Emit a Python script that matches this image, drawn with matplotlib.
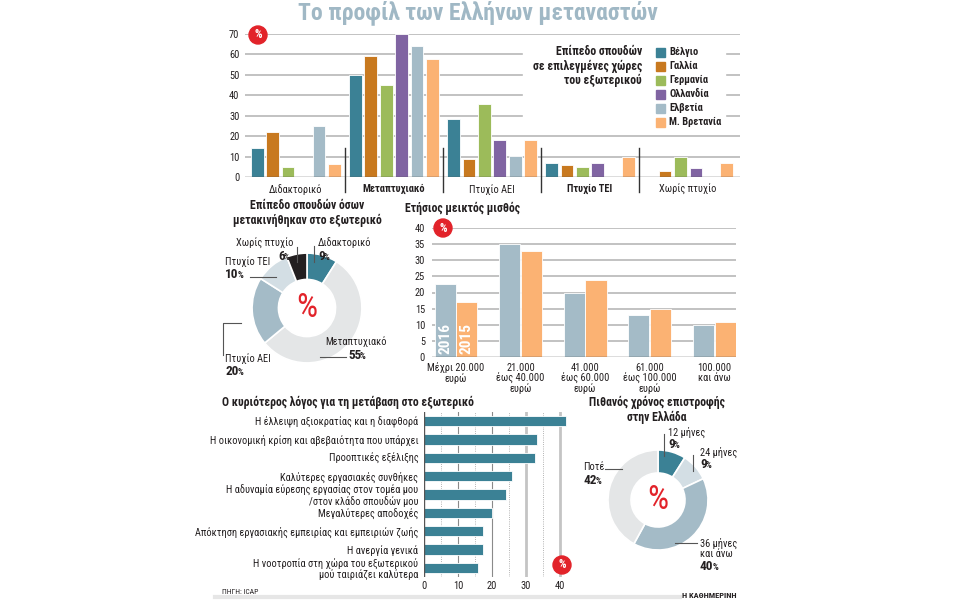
import numpy as np
import matplotlib.pyplot as plt
from matplotlib import font_manager
from matplotlib.font_manager import FontProperties
from matplotlib.patches import Circle, Rectangle


def pick(names):
    for n in names:
        try:
            font_manager.findfont(FontProperties(family=n), fallback_to_default=False)
            return n
        except ValueError:
            pass
    return 'DejaVu Sans'


FONT = pick(['Liberation Sans Narrow', 'Roboto Condensed', 'Roboto'])
plt.rcParams['font.family'] = [FONT, 'DejaVu Sans']

# --- data ---
levels = ['Διδακτορικό', 'Μεταπτυχιακό', 'Πτυχίο ΑΕΙ', 'Πτυχίο ΤΕΙ', 'Χωρίς πτυχίο']
countries = ['Βέλγιο', 'Γαλλία', 'Γερμανία', 'Ολλανδία', 'Ελβετία', 'Μ. Βρετανία']
belgium = [14, 50, 28.5, 7, 0]
france = [22, 59, 9, 6, 3]
germany = [5, 45, 35.5, 5, 10]
netherlands = [0, 70, 18, 7, 4.5]
switzerland = [25, 64, 10.5, 0, 0]
britain = [6.5, 58, 18, 10, 7]

edu_labels = ['Διδακτορικό', 'Μεταπτυχιακό', 'Πτυχίο ΑΕΙ', 'Πτυχίο ΤΕΙ', 'Χωρίς πτυχίο']
edu_share = [9, 55, 20, 10, 6]

salary_bins = ['Μέχρι 20.000\nευρώ', '21.000\nέως 40.000\nευρώ', '41.000\nέως 60.000\nευρώ',
               '61.000\nέως 100.000\nευρώ', '100.000\nκαι άνω']
salary_2016 = [22.5, 35, 20, 13, 10]
salary_2015 = [17, 33, 24, 15, 11]

reasons = ['Η έλλειψη αξιοκρατίας και η διαφθορά',
           'Η οικονομική κρίση και αβεβαιότητα που υπάρχει',
           'Προοπτικές εξέλιξης',
           'Καλύτερες εργασιακές συνθήκες',
           'Η αδυναμία εύρεσης εργασίας στον τομέα μου\n/στον κλάδο σπουδών μου',
           'Μεγαλύτερες αποδοχές',
           'Απόκτηση εργασιακής εμπειρίας και εμπειριών ζωής',
           'Η ανεργία γενικά',
           'Η νοοτροπία στη χώρα του εξωτερικού\nμού ταιριάζει καλύτερα']
reason_share = [41.8, 33.2, 32.6, 25.8, 24.1, 20, 17.4, 17.4, 15.9]

return_labels = ['12 μήνες', '24 μήνες', '36 μήνες\nκαι άνω', 'Ποτέ']
return_share = [9, 9, 40, 42]

# --- colours ---
TEAL = '#3b8195'
C_COUNTRY = [TEAL, '#c8791f', '#9cbb5a', '#8064a2', '#a4bbc7', '#fbb273']
BLUEGRAY = '#a4bbc7'
ORANGE = '#fbb273'
LGRAY = '#e4e6e7'
VLIGHT = '#d3dee4'
DARK = '#231f20'
RED = '#e2232a'
GRID = '#b8b8b8'

fig = plt.figure(figsize=(9.6, 6), dpi=100)


def add_px(l, t, r, b):
    return fig.add_axes([l / 960, 1 - b / 600, (r - l) / 960, (b - t) / 600])


def clean(ax):
    for s in ax.spines.values():
        s.set_visible(False)
    ax.tick_params(length=0, labelsize=7.5, colors=DARK)


# --- top grouped bar chart ---
ax1 = add_px(245, 34, 740, 177)
clean(ax1)
x = np.arange(len(levels))
step, bw = 0.158, 0.128
for i, (vals, col) in enumerate(zip([belgium, france, germany, netherlands, switzerland, britain], C_COUNTRY)):
    vals = np.array(vals, float)
    m = vals > 0
    ax1.bar(x[m] + (i - 2.5) * step, vals[m], width=bw, color=col,
            edgecolor='white', linewidth=0.6, zorder=3)
ax1.set_xlim(-0.52, 4.53)
ax1.set_ylim(0, 70)
ax1.set_yticks(range(0, 71, 10))
for v in range(10, 71, 10):
    ax1.axhline(v, color=GRID, lw=1.2, zorder=0)
ax1.axhline(0, color='#555555', lw=1, zorder=4)
ax1.add_patch(Rectangle((2.32, 24), 2.06, 43, color='white', zorder=1))
ax1.set_xticks(x)
ax1.set_xticklabels(levels)
ax1.tick_params(axis='x', pad=5)
ax1.tick_params(axis='y', pad=4)
for i, t in enumerate(ax1.get_xticklabels()):
    if i in (1, 3):
        t.set_fontweight('bold')
for s in [0.5, 1.5, 2.5, 3.5]:
    ax1.plot([s, s], [-7.3, 14.2], color='#333333', lw=1, clip_on=False, zorder=4)

# --- donut: education level ---
ax2 = add_px(251, 252, 363, 364)
ax2.pie(edu_share, colors=[TEAL, LGRAY, BLUEGRAY, VLIGHT, DARK], startangle=90,
        counterclock=False, wedgeprops=dict(width=0.48, edgecolor='white', linewidth=1.2))
ax2.set_xlim(-1.02, 1.02)
ax2.set_ylim(-1.02, 1.02)
ax2.set_aspect('equal')
ax2.text(0, 0, '%', color=RED, ha='center', va='center', fontsize=24)

# --- salary bars ---
ax3 = add_px(432, 228, 736, 357)
clean(ax3)
xs = np.arange(len(salary_bins))
ax3.bar(xs - 0.17, salary_2016, width=0.326, color=BLUEGRAY, edgecolor='white', linewidth=0.6, zorder=3)
ax3.bar(xs + 0.17, salary_2015, width=0.326, color=ORANGE, edgecolor='white', linewidth=0.6, zorder=3)
ax3.set_xlim(-0.372, 4.34)
ax3.set_ylim(0, 40)
ax3.set_yticks(range(0, 41, 5))
for v in range(5, 41, 5):
    ax3.axhline(v, color=GRID, lw=1.2, zorder=0)
ax3.axhline(0, color='#555555', lw=1, zorder=4)
ax3.set_xticks(xs)
ax3.set_xticklabels(salary_bins, linespacing=1.0)
ax3.tick_params(axis='x', pad=4)
ax3.tick_params(axis='y', pad=5)
ax3.text(-0.17, 0.8, '2016', rotation=90, color='white', fontweight='bold', fontsize=11,
         ha='center', va='bottom', zorder=5)
ax3.text(0.17, 0.8, '2015', rotation=90, color='white', fontweight='bold', fontsize=11,
         ha='center', va='bottom', zorder=5)

# --- reasons horizontal bars ---
ax4 = add_px(424, 412, 570, 577)
clean(ax4)
ys = np.arange(len(reasons))
ax4.barh(ys, reason_share, height=0.55, color=TEAL, edgecolor='white', linewidth=0.6, zorder=3)
ax4.set_xlim(0, 42.9)
ax4.set_ylim(8.5, -0.5)
for v in (10, 20):
    ax4.axvline(v, color='#8a8a8a', lw=0.8, zorder=0)
for v in (30, 40):
    ax4.axvline(v, color='#c4c4c4', lw=2, zorder=0)
for v in (5, 15, 25, 35):
    ax4.axvline(v, color='#9a9a9a', lw=0.6, ls=':', zorder=0)
ax4.axvline(0, color='#555555', lw=1, zorder=4)
ax4.set_xticks(range(0, 41, 10))
ax4.set_yticks(ys)
ax4.set_yticklabels(reasons, linespacing=1.0)
ax4.tick_params(axis='x', pad=3)
ax4.tick_params(axis='y', pad=4)

# --- donut: return time ---
ax5 = add_px(607, 449, 709, 551)
ax5.pie(return_share, colors=[TEAL, VLIGHT, BLUEGRAY, LGRAY], startangle=90,
        counterclock=False, wedgeprops=dict(width=0.46, edgecolor='white', linewidth=1.2))
ax5.set_xlim(-1.02, 1.02)
ax5.set_ylim(-1.02, 1.02)
ax5.set_aspect('equal')
ax5.text(0, 0, '%', color=RED, ha='center', va='center', fontsize=24)

# --- overlay for titles, labels, leader lines (1 unit = 1 pixel) ---
ov = fig.add_axes([0, 0, 1, 1])
ov.set_xlim(0, 960)
ov.set_ylim(600, 0)
ov.axis('off')
renderer = fig.canvas.get_renderer()


def badge(cx, cy, r=9):
    ov.add_patch(Circle((cx, cy), r, color=RED, zorder=5))
    ov.text(cx, cy, '%', color='white', ha='center', va='center', fontsize=8.5,
            fontweight='bold', zorder=6)


def lab(px, py, s, ha='left'):
    ov.text(px, py, s, fontsize=7.5, color=DARK, ha=ha, va='center', linespacing=1.0)


def pct(px, py, num):
    t = ov.text(px, py, num, fontsize=9.5, fontweight='bold', color=DARK, ha='left', va='baseline')
    bb = t.get_window_extent(renderer)
    ov.text(px + bb.width - 1.2, py, '%', fontsize=6.5, fontweight='bold', color=DARK,
            ha='left', va='baseline')


def seg(xs_, ys_):
    ov.plot(xs_, ys_, color='#555555', lw=0.8)


ov.text(478, 13, 'Το προφίλ των Ελλήνων μεταναστών', ha='center', va='center',
        fontsize=17, fontweight='bold', color='#a0b8c5')

badge(258, 35)
badge(443, 228)
badge(562, 565)

# legend of the top chart
ov.text(642, 66, 'Επίπεδο σπουδών\nσε επιλεγμένες χώρες\nτου εξωτερικού', ha='right', va='center',
        fontsize=8.5, fontweight='bold', color=DARK, linespacing=1.15)
for i, (name, col) in enumerate(zip(countries, C_COUNTRY)):
    yy = 52 + 14 * i
    ov.add_patch(Rectangle((656, yy - 4.5), 9, 9, color=col))
    ov.text(669, yy, name, fontsize=7.5, fontweight='bold', color=DARK, va='center')

# section titles
ov.text(307, 213, 'Επίπεδο σπουδών όσων\nμετακινήθηκαν στο εξωτερικό', ha='center', va='center',
        fontsize=8.5, fontweight='bold', color=DARK, linespacing=1.15)
ov.text(405, 208, 'Ετήσιος μεικτός μισθός', ha='left', va='center',
        fontsize=8.5, fontweight='bold', color=DARK)
ov.text(222, 402, 'Ο κυριότερος λόγος για τη μετάβαση στο εξωτερικό', ha='left', va='center',
        fontsize=8.5, fontweight='bold', color=DARK)
ov.text(657, 410, 'Πιθανός χρόνος επιστροφής\nστην Ελλάδα', ha='center', va='center',
        fontsize=8.5, fontweight='bold', color=DARK, linespacing=1.15)

# donut 1 labels
lab(293, 243, edu_labels[4], ha='right')
pct(278, 260, '%d' % edu_share[4])
seg([297, 297], [247, 262])
lab(318, 243, edu_labels[0])
pct(318, 260, '%d' % edu_share[0])
seg([314, 314], [246, 262])
lab(225, 262, edu_labels[3])
pct(225, 278, '%d' % edu_share[3])
seg([250, 276], [277, 277])
lab(225, 359, edu_labels[2])
pct(225, 375, '%d' % edu_share[2])
seg([223, 223, 241], [355, 323, 323])
lab(387, 342, edu_labels[1], ha='right')
pct(348, 359, '%d' % edu_share[1])
seg([320, 346], [357, 357])

# donut 2 labels
lab(668, 432, return_labels[0])
pct(668, 448, '%d' % return_share[0])
seg([664, 664], [434, 456])
lab(700, 452, return_labels[1])
pct(700, 468, '%d' % return_share[1])
seg([693, 693], [455, 471])
lab(700, 548, return_labels[2])
pct(700, 570, '%d' % return_share[2])
seg([675, 697], [543, 543])
lab(583, 467, return_labels[3])
pct(583, 484, '%d' % return_share[3])
seg([605, 622], [469, 469])

# footer
ov.plot([215, 680], [597, 597], color='#e6e6e6', lw=3)
ov.text(222, 592, 'ΠΗΓΗ: ICAP', fontsize=5.5, color=DARK, va='center')
ov.text(737, 595, 'Η ΚΑΘΗΜΕΡΙΝΗ', fontsize=6, fontweight='bold', color=DARK, ha='right', va='center')

fig.savefig('out.png', dpi=100)
